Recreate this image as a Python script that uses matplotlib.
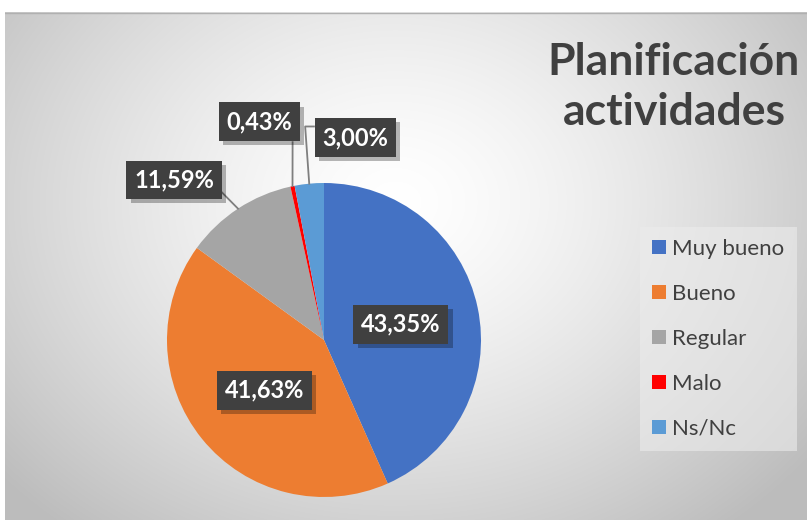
import numpy as np
import matplotlib
matplotlib.use("Agg")
import matplotlib.pyplot as plt
import matplotlib.patheffects as pe

categories = ["Muy bueno", "Bueno", "Regular", "Malo", "Ns/Nc"]
values = [43.35, 41.63, 11.59, 0.43, 3.00]
colors = ["#4472C4", "#ED7D31", "#A5A5A5", "#FF0000", "#5B9BD5"]
title = "Planificación\nactividades"

plt.rcParams['font.family'] = ['Lato', 'DejaVu Sans']

W, H = 807, 520
fig = plt.figure(figsize=(W / 100, H / 100), dpi=100)
fig.patch.set_facecolor("white")

# radial gray background of the chart area
bg = fig.add_axes([5 / W, 0, (W - 5) / W, (H - 12) / H])
bg.set_axis_off()
yy, xx = np.mgrid[0:508, 0:802]
d = np.sqrt(((xx - 390) / 520.0) ** 2 + ((yy - 190) / 420.0) ** 2)
d = np.clip(d, 0, 1)
shade = 1.0 - 0.26 * d ** 1.4
bg.imshow(np.dstack([shade] * 3), aspect="auto", extent=(0, 802, 508, 0))
bg.axhline(0.5, color="#b0b0b0", lw=1)
bg.set_xlim(0, 802)
bg.set_ylim(508, 0)

# pie, centre (324,340) px, radius 157 px
cx, cy, r = 324, 340, 157
ax = fig.add_axes([(cx - r) / W, (H - cy - r) / H, 2 * r / W, 2 * r / H])
wedges, _ = ax.pie(values, colors=colors, startangle=90, counterclock=False,
                   radius=1, wedgeprops=dict(linewidth=0))
ax.set_xlim(-1, 1)
ax.set_ylim(-1, 1)
ax.set_axis_off()

# data label positions (data coords of the pie axes) and leader lines
label_pos = [(0.49, 0.10), (-0.38, -0.32), (-0.955, 1.02), (-0.41, 1.39), (0.20, 1.29)]
leaders = {
    2: [(-0.65, 0.94)],
    3: [(-0.20, 1.26)],
    4: [(-0.12, 1.36), (-0.064, 1.36)],
}
cum = np.cumsum([0] + values)
for i, v in enumerate(values):
    mid = 90 - (cum[i] + v / 2) / 100 * 360
    if i in leaders:
        ex, ey = np.cos(np.radians(mid)), np.sin(np.radians(mid))
        pts = [(ex, ey)] + leaders[i]
        ax.plot([p[0] for p in pts], [p[1] for p in pts], color="#7f7f7f",
                lw=1.3, clip_on=False, zorder=3)

for i, v in enumerate(values):
    txt = f"{v:.2f}%".replace(".", ",")
    x, y = label_pos[i]
    t = ax.text(x, y, txt, ha="center", va="center", fontsize=17, fontweight="bold",
                color="white", zorder=5,
                bbox=dict(boxstyle="square,pad=0.33", fc="#404040", ec="none", lw=0))
    t.get_bbox_patch().set_path_effects(
        [pe.SimplePatchShadow(offset=(3, -3), shadow_rgbFace="black", alpha=0.28),
         pe.Normal()])

fig.text(800 / W, 1 - 42 / H, title, ha="right", va="top", fontsize=32,
         fontweight="bold", color="#404040", linespacing=1.3,
         multialignment="center")

leg = fig.legend(wedges, categories, loc="upper left",
                 bbox_to_anchor=(640 / W, 1 - 227 / H), fontsize=16,
                 frameon=True, fancybox=False, labelspacing=1.12,
                 handlelength=0.6, handleheight=0.6, handletextpad=0.3,
                 borderpad=0.55, borderaxespad=0, labelcolor="#404040")
leg.get_frame().set_facecolor("#ececec")
leg.get_frame().set_alpha(0.6)
leg.get_frame().set_edgecolor("none")

fig.savefig("out.png", dpi=100)
